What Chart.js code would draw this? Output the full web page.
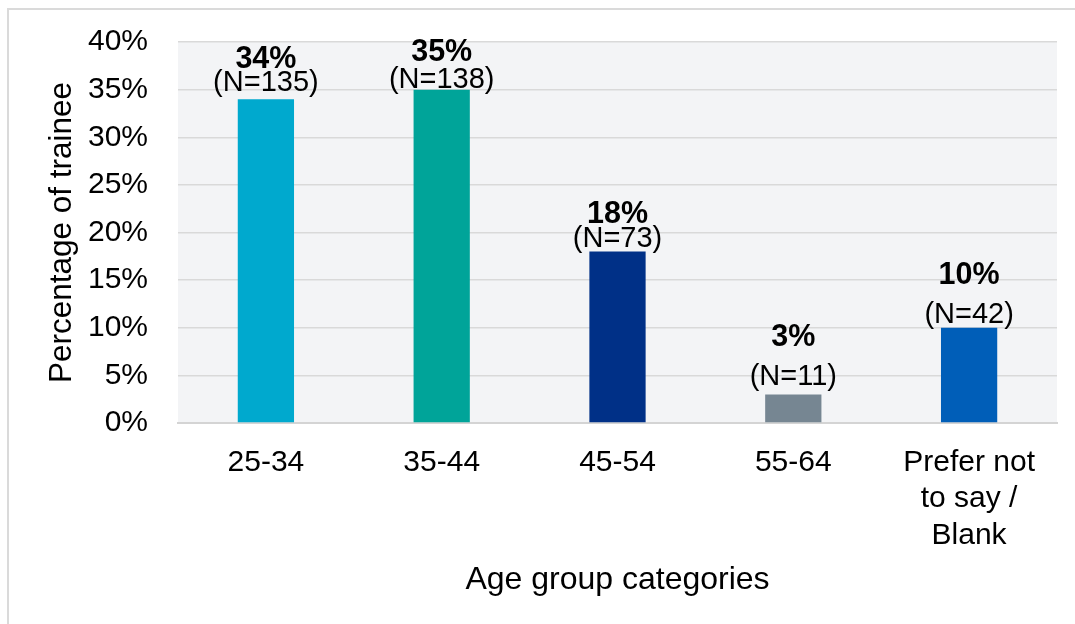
<!DOCTYPE html>
<html>
<head>
<meta charset="utf-8">
<script src="https://cdn.jsdelivr.net/npm/chart.js@4.4.1/dist/chart.umd.min.js"></script>
<style>
  html, body { margin: 0; padding: 0; background: #ffffff; }
  #wrap { position: relative; width: 1075px; height: 624px; overflow: hidden; }
  #frame { position: absolute; left: 7px; top: 8px; right: -4px; bottom: -4px;
           border-top: 2px solid #dadada; border-left: 2px solid #dadada; }
  canvas { position: absolute; left: 0; top: 0; }
</style>
</head>
<body>
<div id="wrap">
  <div id="frame"></div>
  <canvas id="chart" width="1075" height="624"></canvas>
</div>
<script>
// Age groups of trainees
const categories = ['25-34', '35-44', '45-54', '55-64', ['Prefer not', 'to say /', 'Blank']];
const percentValues = [34, 35, 18, 3, 10];
const counts = [135, 138, 73, 11, 42];
const barColors = ['#00A9CE', '#00A499', '#003087', '#768692', '#005EB8'];
const yTicks = [0, 5, 10, 15, 20, 25, 30, 35, 40];

const FONT = "'Liberation Sans', Arial, Helvetica, sans-serif";

// light grey panel behind the plot area
const plotBackground = {
  id: 'plotBackground',
  beforeDraw(chart) {
    const { ctx, chartArea: a } = chart;
    ctx.save();
    ctx.fillStyle = '#f3f4f6';
    ctx.fillRect(a.left, a.top, a.right - a.left, a.bottom - a.top);
    ctx.restore();
  }
};

// axis titles
const axisTitles = {
  id: 'axisTitles',
  afterDraw(chart) {
    const { ctx, chartArea: a } = chart;
    ctx.save();
    ctx.fillStyle = '#000';
    ctx.textAlign = 'center';
    ctx.textBaseline = 'middle';
    ctx.font = '32px ' + FONT;
    ctx.fillText('Age group categories', (a.left + a.right) / 2, 580);
    ctx.font = '31.5px ' + FONT;
    ctx.translate(62, (a.top + a.bottom) / 2);
    ctx.rotate(-Math.PI / 2);
    ctx.fillText('Percentage of trainee', 0, 0);
    ctx.restore();
  }
};

// percentage and count above each bar
const barLabels = {
  id: 'barLabels',
  afterDatasetsDraw(chart, args, opts) {
    const { ctx } = chart;
    const meta = chart.getDatasetMeta(0);
    ctx.save();
    ctx.fillStyle = '#000';
    ctx.textAlign = 'center';
    ctx.textBaseline = 'alphabetic';
    meta.data.forEach((bar, i) => {
      const nY = bar.y - opts.countGap[i];
      const pY = nY - opts.percentGap[i];
      ctx.font = 'bold 30.5px ' + FONT;
      ctx.fillText(percentValues[i] + '%', bar.x, pY);
      ctx.font = '29px ' + FONT;
      ctx.fillText('(N=' + counts[i] + ')', bar.x, nY);
    });
    ctx.restore();
  }
};

new Chart(document.getElementById('chart'), {
  type: 'bar',
  data: {
    labels: categories,
    datasets: [{
      data: percentValues,
      backgroundColor: barColors,
      borderWidth: 0,
      barPercentage: 0.32,
      categoryPercentage: 1.0
    }]
  },
  options: {
    responsive: false,
    animation: false,
    events: [],
    layout: { padding: { left: 0, right: 18, top: 42, bottom: 0 } },
    plugins: {
      legend: { display: false },
      tooltip: { enabled: false },
      barLabels: {
        countGap: [8, 2, 5, 9, 5],
        percentGap: [23, 27, 24, 39, 39]
      }
    },
    scales: {
      x: {
        grid: { display: false, drawTicks: false },
        border: { display: true, color: '#d4d4d4', width: 2 },
        ticks: {
          color: '#000',
          font: { family: FONT, size: 30, lineHeight: 1.22 },
          padding: 21,
          maxRotation: 0,
          autoSkip: false
        },
        afterFit(scale) { scale.height = 201; }
      },
      y: {
        min: 0,
        max: 40,
        afterBuildTicks(scale) { scale.ticks = yTicks.map(v => ({ value: v })); },
        grid: { color: '#d9d9d9', lineWidth: 1.5, drawTicks: false },
        border: { display: false },
        ticks: {
          color: '#000',
          font: { family: FONT, size: 30 },
          padding: 30,
          callback: v => v + '%'
        },
        afterFit(scale) {
          scale.width = 178;
          scale.paddingTop = 20;
          scale.paddingBottom = 20;
        }
      }
    }
  },
  plugins: [plotBackground, axisTitles, barLabels]
});
</script>
</body>
</html>
